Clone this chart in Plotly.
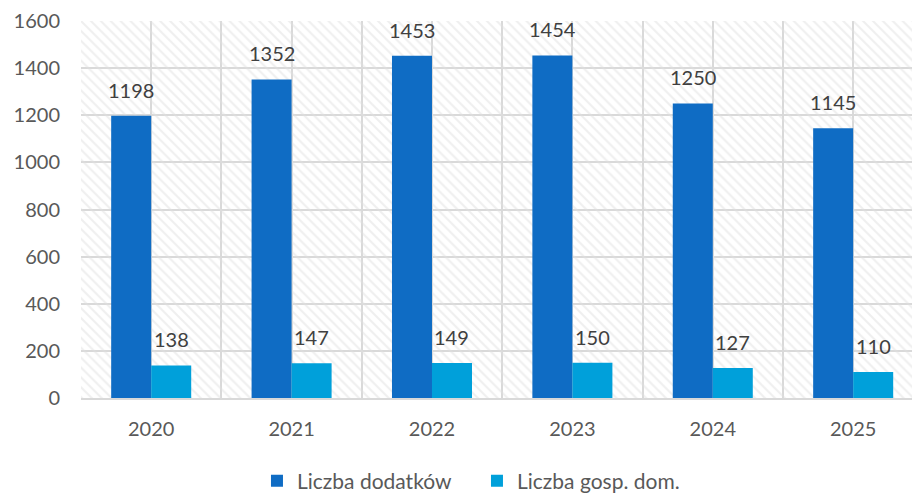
import plotly.graph_objects as go

years = ["2020", "2021", "2022", "2023", "2024", "2025"]
dodatki = [1198, 1352, 1453, 1454, 1250, 1145]
gosp_dom = [138, 147, 149, 150, 127, 110]

series_names = ["Liczba dodatków", "Liczba gosp. dom."]
colors = ["#0F6CC4", "#00A0DA"]
text_color = "#595959"
label_color = "#404040"
grid_color = "#D9D9D9"
font_family = "Lato, 'Open Sans', sans-serif"

xpos = list(range(len(years)))
bar_w = 0.285

fig = go.Figure()

# textured plot background (transparent between the dots so gridlines show)
fig.add_trace(go.Bar(
    x=[2.5], y=[1600], base=0, width=[8], offset=-4,
    marker=dict(color="rgba(0,0,0,0)", line=dict(width=0),
                pattern=dict(shape="\\", fgcolor="#E0E0E0", bgcolor="rgba(0,0,0,0)",
                             size=7, solidity=0.3)),
    hoverinfo="skip", showlegend=False,
))

fig.add_trace(go.Bar(
    x=xpos, y=dodatki, name=series_names[0], offset=-bar_w, width=bar_w,
    marker=dict(color=colors[0], line=dict(width=0)),
))
fig.add_trace(go.Bar(
    x=xpos, y=gosp_dom, name=series_names[1], offset=0, width=bar_w,
    marker=dict(color=colors[1], line=dict(width=0)),
))

# value labels above bars
for i, (a, b) in enumerate(zip(dodatki, gosp_dom)):
    for xv, val in ((i - bar_w / 2, a), (i + bar_w / 2, b)):
        fig.add_annotation(
            x=xv, y=val, text=str(val), showarrow=False,
            yanchor="bottom", yshift=12,
            font=dict(size=20, color=label_color, family=font_family),
        )

fig.update_layout(
    width=912, height=494,
    margin=dict(l=81, r=0, t=21, b=96),
    barmode="overlay",
    paper_bgcolor="white", plot_bgcolor="white",
    font=dict(family=font_family, size=20, color=text_color),
    legend=dict(
        orientation="h", xref="container", yref="container",
        x=0.523, xanchor="center", y=0.026, yanchor="middle",
        font=dict(size=21, color=text_color),
        itemwidth=30, traceorder="normal", entrywidth=175,
    ),
    xaxis=dict(
        range=[-0.5, 5.419],
        tickmode="array", tickvals=xpos, ticktext=years,
        showgrid=True, gridcolor=grid_color, gridwidth=2,
        minor=dict(tickmode="linear", tick0=-0.5, dtick=1, showgrid=True,
                   gridcolor=grid_color, gridwidth=2, ticks=""),
        ticks="", ticklabelstandoff=12,
        showline=True, linecolor=grid_color, linewidth=2,
        zeroline=False, fixedrange=True,
    ),
    yaxis=dict(
        range=[0, 1600], dtick=200, tick0=0,
        showgrid=True, gridcolor=grid_color, gridwidth=2,
        ticks="", ticklabelstandoff=20,
        showline=False, zeroline=False, fixedrange=True,
    ),
)

fig.write_html("out.html")
